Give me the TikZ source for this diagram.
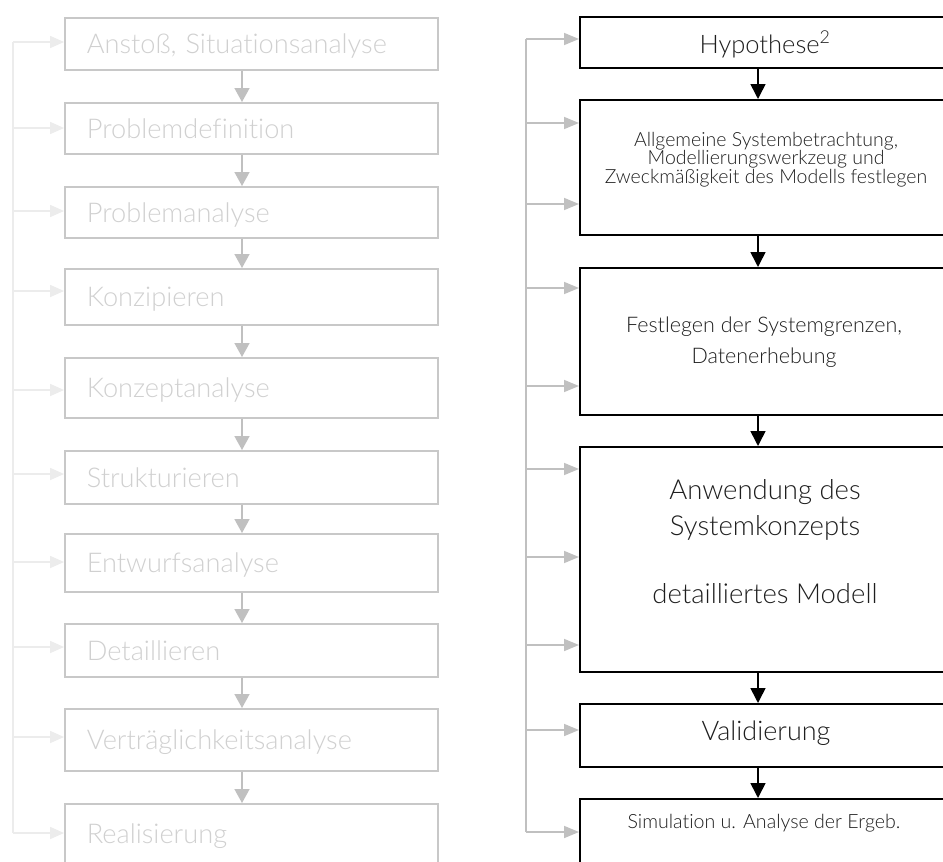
\documentclass[tikz,border=0pt]{standalone}
\usepackage{fontspec}
\setmainfont{Lato}[UprightFont=* Light, Ligatures={NoCommon}]
\usetikzlibrary{arrows.meta}
\definecolor{lboxc}{RGB}{200,200,200}
\definecolor{ltxtc}{RGB}{208,208,208}
\definecolor{ldownc}{RGB}{192,192,192}
\definecolor{lfbc}{RGB}{236,236,236}
\definecolor{rfbc}{RGB}{192,192,192}
\definecolor{rtxtc}{RGB}{30,30,30}
\begin{document}
\begin{tikzpicture}[x=1pt,y=-1pt,
  lbox/.style={draw=lboxc, line width=1.6pt, anchor=north west, minimum width=373pt,
    text width=329pt, inner xsep=22pt, inner ysep=0pt, align=left,
    text height=19.4pt, text depth=0pt, text=ltxtc, font=\fontsize{27.2}{30}\selectfont},
  rbox/.style={draw=black, line width=1.8pt, anchor=north west, minimum width=370pt, inner sep=0pt},
  rtxt/.style={inner sep=0pt, anchor=base, text=rtxtc},
  ldown/.style={draw=ldownc, line width=1.6pt, -{Triangle[length=14pt,width=15pt]}},
  rdown/.style={draw=black, line width=1.6pt, -{Triangle[length=15pt,width=15pt]}},
  lfbline/.style={draw=lfbc, line width=1.6pt},
  lfb/.style={draw=lfbc, line width=1.6pt, -{Triangle[length=14pt,width=12pt]}},
  rfbline/.style={draw=rfbc, line width=1.6pt},
  rfb/.style={draw=rfbc, line width=1.6pt, -{Triangle[length=15pt,width=12pt]}}
]
\useasboundingbox (0,0) rectangle (943,862);
\fill[white] (0,0) rectangle (943,862);

% ---------- left column ----------
\node[lbox, minimum height=52pt] (b1) at (64,17) {Anstoß, Situationsanalyse};
\node[lbox, minimum height=51pt] (b2) at (64,102) {Problemdefinition};
\node[lbox, minimum height=51pt] (b3) at (64,186) {Problemanalyse};
\node[lbox, minimum height=56pt] (b4) at (64,268) {Konzipieren};
\node[lbox, minimum height=60pt] (b5) at (64,357) {Konzeptanalyse};
\node[lbox, minimum height=53pt] (b6) at (64,450) {Strukturieren};
\node[lbox, minimum height=58pt] (b7) at (64,533) {Entwurfsanalyse};
\node[lbox, minimum height=53pt] (b8) at (64,623) {Detaillieren};
\node[lbox, minimum height=62pt] (b9) at (64,708) {Verträglichkeitsanalyse};
\node[lbox, minimum height=60pt] (b10) at (64,803) {Realisierung};

\coordinate (lx) at (242,0);
\foreach \a/\b in {b1/b2,b2/b3,b3/b4,b4/b5,b5/b6,b6/b7,b7/b8,b8/b9,b9/b10}
  \draw[ldown] (\a.south -| lx) -- (\b.north -| lx);

\coordinate (lv) at (13,0);
\foreach \n/\d in {b1/25,b2/26,b3/25,b4/23,b5/33,b6/24,b7/29,b8/24,b9/29,b10/30}
  \coordinate (\n-f) at ([yshift=-\d pt]\n.north west);
\draw[lfbline] (lv |- b1-f) -- (lv |- b10-f);
\foreach \n in {b1,b2,b3,b4,b5,b6,b7,b8,b9,b10}
  \draw[lfb] (lv |- \n-f) -- (\n-f);

% ---------- right column ----------
\node[rbox, minimum height=51pt] (r1) at (579,16) {};
\node[rbox, minimum height=135pt] (r2) at (579,99) {};
\node[rbox, minimum height=147pt] (r3) at (579,267) {};
\node[rbox, minimum height=225pt] (r4) at (579,446) {};
\node[rbox, minimum height=63pt] (r5) at (579,703) {};
\node[rbox, minimum height=80pt] (r6) at (579,798) {};

\node[rtxt, font=\fontsize{25.5}{28}\selectfont] (r1t) at (765,53) {Hypothese\textsuperscript{2}};
\node[rtxt, font=\fontsize{19.5}{22}\selectfont] (r2ta) at (766,146) {Allgemeine Systembetrachtung,};
\node[rtxt, font=\fontsize{19.5}{22}\selectfont] (r2tb) at (766,164.5) {Modellierungswerkzeug und};
\node[rtxt, font=\fontsize{19.5}{22}\selectfont] (r2tc) at (766,183) {Zweckmäßigkeit des Modells festlegen};
\node[rtxt, font=\fontsize{21.5}{24}\selectfont] (r3ta) at (764,332) {Festlegen der Systemgrenzen,};
\node[rtxt, font=\fontsize{21.5}{24}\selectfont] (r3tb) at (764,363.5) {Datenerhebung};
\node[rtxt, font=\fontsize{27.5}{32}\selectfont] (r4ta) at (765,499) {Anwendung des};
\node[rtxt, font=\fontsize{27.5}{32}\selectfont] (r4tb) at (765,535) {Systemkonzepts};
\node[rtxt, font=\fontsize{27.5}{32}\selectfont] (r4tc) at (765,603) {detailliertes Modell};
\node[rtxt, font=\fontsize{27}{30}\selectfont] (r5t) at (766,740) {Validierung};
\node[rtxt, font=\fontsize{19.6}{22}\selectfont] (r6t) at (764,828) {Simulation u. Analyse der Ergeb.};

\coordinate (rx) at (758,0);
\foreach \a/\b in {r1/r2,r2/r3,r3/r4,r4/r5,r5/r6}
  \draw[rdown] (\a.south -| rx) -- (\b.north -| rx);

\coordinate (rv) at (526,0);
\foreach \n/\d in {r1/23,r2/24,r3/21,r4/23,r5/27,r6/34}
  \coordinate (\n-f) at ([yshift=-\d pt]\n.north west);
\coordinate (r2-g) at ([yshift=-105pt]r2.north west);
\coordinate (r3-g) at ([yshift=-119pt]r3.north west);
\coordinate (r4-g) at ([yshift=-111pt]r4.north west);
\coordinate (r4-h) at ([yshift=-199pt]r4.north west);
\draw[rfbline] (rv |- r1-f) -- (rv |- r6-f);
\foreach \c in {r1-f,r2-f,r2-g,r3-f,r3-g,r4-f,r4-g,r4-h,r5-f,r6-f}
  \draw[rfb] (rv |- \c) -- (\c);
\end{tikzpicture}
\end{document}
